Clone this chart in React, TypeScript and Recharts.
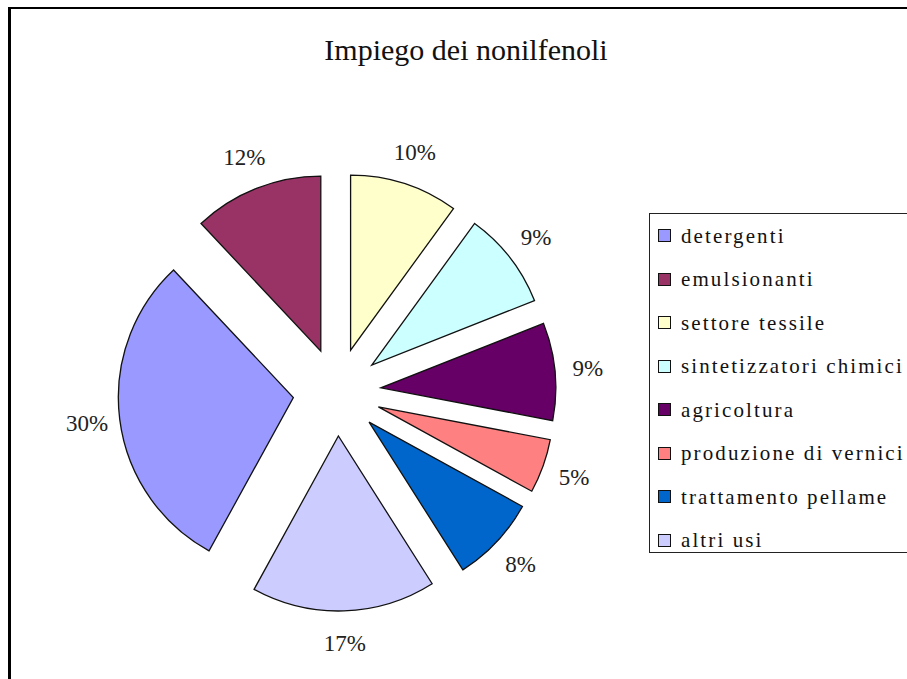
import React from "react"
import { PieChart, Pie, Cell, Sector, Legend } from "recharts"

const categories = [
  "detergenti",
  "emulsionanti",
  "settore tessile",
  "sintetizzatori chimici",
  "agricoltura",
  "produzione di vernici",
  "trattamento pellame",
  "altri usi",
]
const shares = [30, 12, 10, 9, 9, 5, 8, 17]
const colors = ["#9999FF", "#993366", "#FFFFCC", "#CCFFFF", "#660066", "#FF8080", "#0066CC", "#CCCCFF"]

const data = categories.map((name, i) => ({ name, value: shares[i] }))

const FONT = "Liberation Serif, DejaVu Serif, serif"
const RADIUS = 175
const EXPLODE = 44
// settore tessile starts at 12 o'clock, slices go clockwise
const total = shares.reduce((a, b) => a + b, 0)
const START = 90 + ((shares[0] + shares[1]) / total) * 360

const RAD = Math.PI / 180

function renderSlice(props: any) {
  const { cx, cy, midAngle, outerRadius, startAngle, endAngle, index, value } = props
  const a = -midAngle * RAD
  const ox = cx + Math.cos(a) * EXPLODE
  const oy = cy + Math.sin(a) * EXPLODE
  const lr = outerRadius + 33
  return (
    <g key={`slice-${index}`}>
      <Sector
        cx={ox}
        cy={oy}
        innerRadius={0}
        outerRadius={outerRadius}
        startAngle={startAngle}
        endAngle={endAngle}
        fill={colors[index]}
        stroke="#111"
        strokeWidth={1.3}
      />
      <text
        x={ox + Math.cos(a) * lr}
        y={oy + Math.sin(a) * lr}
        textAnchor="middle"
        dominantBaseline="central"
        fontFamily={FONT}
        fontSize={23}
        fill="#222"
      >
        {value}%
      </text>
    </g>
  )
}

// legend keeps the data order (recharts would sort it by name)
function LegendBox() {
  return (
    <div
      style={{
        width: 300,
        height: 340,
        border: "1.5px solid #222",
        background: "#fff",
        boxSizing: "border-box",
      }}
    >
      {categories.map((name, i) => (
        <div key={name} style={{ height: 43.5, display: "flex", alignItems: "center", paddingLeft: 8 }}>
          <span
            style={{
              width: 11,
              height: 11,
              background: colors[i],
              border: "1px solid #111",
              display: "inline-block",
              marginRight: 10,
              flexShrink: 0,
            }}
          />
          <span
            style={{
              fontFamily: FONT,
              fontSize: 21,
              lineHeight: "22px",
              letterSpacing: 2.1,
              color: "#111",
              whiteSpace: "nowrap",
            }}
          >
            {name}
          </span>
        </div>
      ))}
    </div>
  )
}

export default function App() {
  return (
    <div
      style={{
        position: "absolute",
        left: 0,
        top: 0,
        width: 907,
        height: 679,
        overflow: "hidden",
        background: "#fff",
      }}
    >
      <div
        style={{
          position: "absolute",
          left: 8,
          top: 7,
          width: 1000,
          height: 1000,
          borderLeft: "3px solid #000",
          borderTop: "2.5px solid #000",
        }}
      />
      <div
        style={{
          position: "absolute",
          left: 0,
          top: 35,
          width: 932,
          textAlign: "center",
          fontFamily: FONT,
          fontSize: 30,
          lineHeight: "29px",
          color: "#111",
        }}
      >
        Impiego dei nonilfenoli
      </div>
      <div style={{ position: "absolute", left: 0, top: 0 }}>
        <PieChart width={907} height={679} margin={{ top: 0, right: 0, bottom: 0, left: 0 }}>
          <Pie
            data={data}
            dataKey="value"
            nameKey="name"
            cx={337}
            cy={392}
            innerRadius={0}
            outerRadius={RADIUS}
            startAngle={START}
            endAngle={START - 360}
            stroke="none"
            fillOpacity={0}
            label={renderSlice}
            labelLine={false}
            isAnimationActive={false}
          >
            {data.map((d, i) => (
              <Cell key={d.name} fill={colors[i]} />
            ))}
          </Pie>
          <Legend
            layout="vertical"
            align="right"
            verticalAlign="top"
            content={<LegendBox />}
            wrapperStyle={{ position: "absolute", left: 649, top: 213, right: "auto", width: 300, height: 340 }}
          />
        </PieChart>
      </div>
    </div>
  )
}
